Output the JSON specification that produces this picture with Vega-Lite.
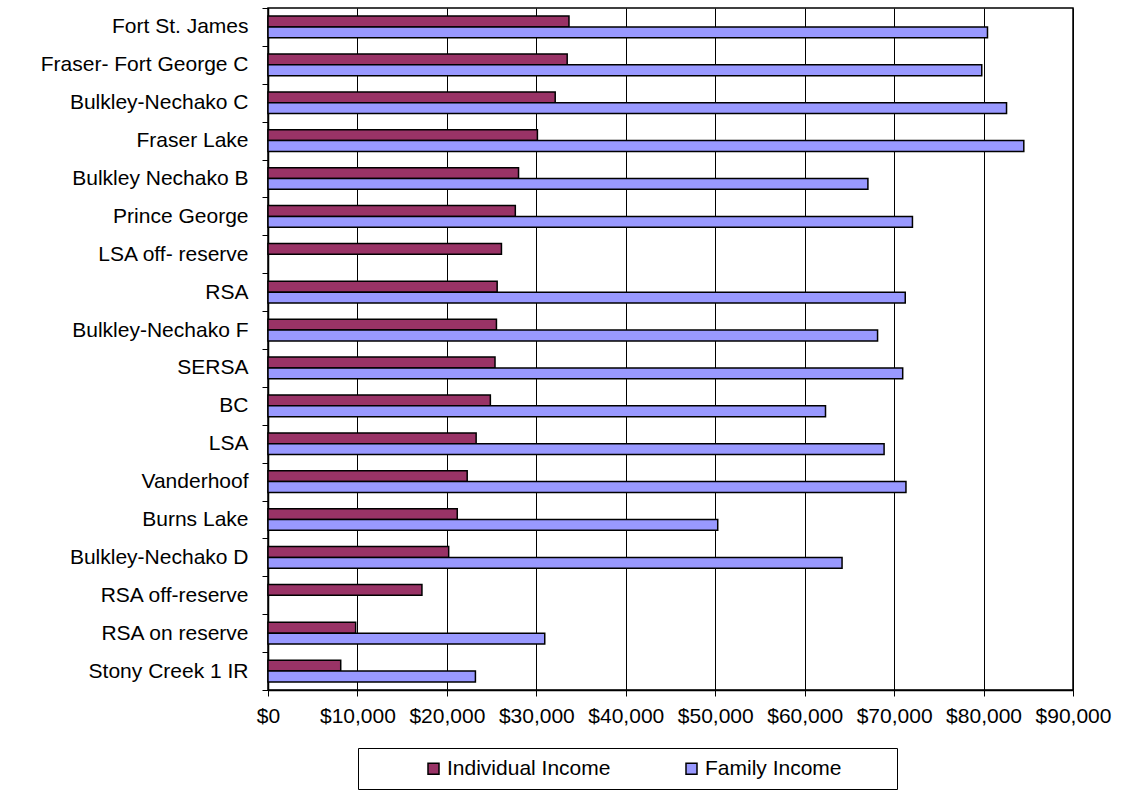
{
  "$schema": "https://vega.github.io/schema/vega-lite/v6.json",
  "width": 805,
  "height": 682,
  "autosize": {"type": "none"},
  "padding": {"left": 268, "top": 8, "right": 51, "bottom": 116},
  "background": "white",
  "config": {
    "font": "Liberation Sans",
    "view": {"stroke": "#000", "strokeWidth": 1.5},
    "axis": {"labelFont": "Liberation Sans", "labelFontSize": 21, "labelColor": "#000", "domainColor": "#000", "tickColor": "#000", "domainWidth": 1.5}
  },
  "data": {
    "values": [
      {"area": "Fort St. James", "series": "Individual Income", "income": 33650},
      {"area": "Fort St. James", "series": "Family Income", "income": 80440},
      {"area": "Fraser- Fort George C", "series": "Individual Income", "income": 33450},
      {"area": "Fraser- Fort George C", "series": "Family Income", "income": 79800},
      {"area": "Bulkley-Nechako C", "series": "Individual Income", "income": 32110},
      {"area": "Bulkley-Nechako C", "series": "Family Income", "income": 82570},
      {"area": "Fraser Lake", "series": "Individual Income", "income": 30120},
      {"area": "Fraser Lake", "series": "Family Income", "income": 84500},
      {"area": "Bulkley Nechako B", "series": "Individual Income", "income": 28010},
      {"area": "Bulkley Nechako B", "series": "Family Income", "income": 67070},
      {"area": "Prince George", "series": "Individual Income", "income": 27650},
      {"area": "Prince George", "series": "Family Income", "income": 72050},
      {"area": "LSA off- reserve", "series": "Individual Income", "income": 26100},
      {"area": "RSA", "series": "Individual Income", "income": 25620},
      {"area": "RSA", "series": "Family Income", "income": 71245},
      {"area": "Bulkley-Nechako F", "series": "Individual Income", "income": 25540},
      {"area": "Bulkley-Nechako F", "series": "Family Income", "income": 68150},
      {"area": "SERSA", "series": "Individual Income", "income": 25380},
      {"area": "SERSA", "series": "Family Income", "income": 70960},
      {"area": "BC", "series": "Individual Income", "income": 24860},
      {"area": "BC", "series": "Family Income", "income": 62330},
      {"area": "LSA", "series": "Individual Income", "income": 23270},
      {"area": "LSA", "series": "Family Income", "income": 68880},
      {"area": "Vanderhoof", "series": "Individual Income", "income": 22270},
      {"area": "Vanderhoof", "series": "Family Income", "income": 71325},
      {"area": "Burns Lake", "series": "Individual Income", "income": 21160},
      {"area": "Burns Lake", "series": "Family Income", "income": 50280},
      {"area": "Bulkley-Nechako D", "series": "Individual Income", "income": 20200},
      {"area": "Bulkley-Nechako D", "series": "Family Income", "income": 64180},
      {"area": "RSA off-reserve", "series": "Individual Income", "income": 17210},
      {"area": "RSA on reserve", "series": "Individual Income", "income": 9800},
      {"area": "RSA on reserve", "series": "Family Income", "income": 30940},
      {"area": "Stony Creek 1 IR", "series": "Individual Income", "income": 8130},
      {"area": "Stony Creek 1 IR", "series": "Family Income", "income": 23190}
    ]
  },
  "mark": {"type": "bar", "stroke": "#000", "strokeWidth": 1.5, "cornerRadius": 0},
  "encoding": {
    "y": {
      "field": "area",
      "type": "nominal",
      "scale": {
        "domain": ["Fort St. James", "Fraser- Fort George C", "Bulkley-Nechako C", "Fraser Lake", "Bulkley Nechako B", "Prince George", "LSA off- reserve", "RSA", "Bulkley-Nechako F", "SERSA", "BC", "LSA", "Vanderhoof", "Burns Lake", "Bulkley-Nechako D", "RSA off-reserve", "RSA on reserve", "Stony Creek 1 IR"],
        "paddingInner": 0,
        "paddingOuter": 0
      },
      "axis": {
        "title": null,
        "tickBand": "extent",
        "tickSize": 6,
        "labelPadding": 14,
        "grid": false,
        "labelLimit": 300,
        "labelOverlap": false
      }
    },
    "yOffset": {
      "field": "series",
      "type": "nominal",
      "scale": {"domain": ["Individual Income", "Family Income"], "paddingInner": 0, "paddingOuter": 0.75}
    },
    "x": {
      "field": "income",
      "type": "quantitative",
      "scale": {"domain": [0, 90000], "nice": false},
      "axis": {
        "title": null,
        "values": [0, 10000, 20000, 30000, 40000, 50000, 60000, 70000, 80000, 90000],
        "format": "$,.0f",
        "grid": true,
        "gridColor": "#000",
        "gridWidth": 1,
        "tickSize": 6,
        "labelPadding": 9,
        "labelOverlap": false,
        "labelFlush": false,
        "labelBound": false
      }
    },
    "fill": {
      "field": "series",
      "type": "nominal",
      "scale": {"domain": ["Individual Income", "Family Income"], "range": ["#993366", "#9999FF"]},
      "legend": {
        "orient": "none",
        "legendX": 90,
        "legendY": 740,
        "direction": "horizontal",
        "title": " ",
        "titleOrient": "right",
        "titlePadding": 45,
        "titleFontSize": 21,
        "strokeColor": "#000",
        "fillColor": "#fff",
        "padding": 10,
        "symbolOffset": 55,
        "columnPadding": 15,
        "symbolType": "square",
        "symbolSize": 121,
        "symbolStrokeColor": "#000",
        "symbolStrokeWidth": 1.5,
        "symbolOpacity": 1,
        "labelFont": "Liberation Sans",
        "labelFontSize": 21,
        "labelColor": "#000",
        "labelOffset": 3,
        "labelLimit": 300
      }
    }
  }
}
